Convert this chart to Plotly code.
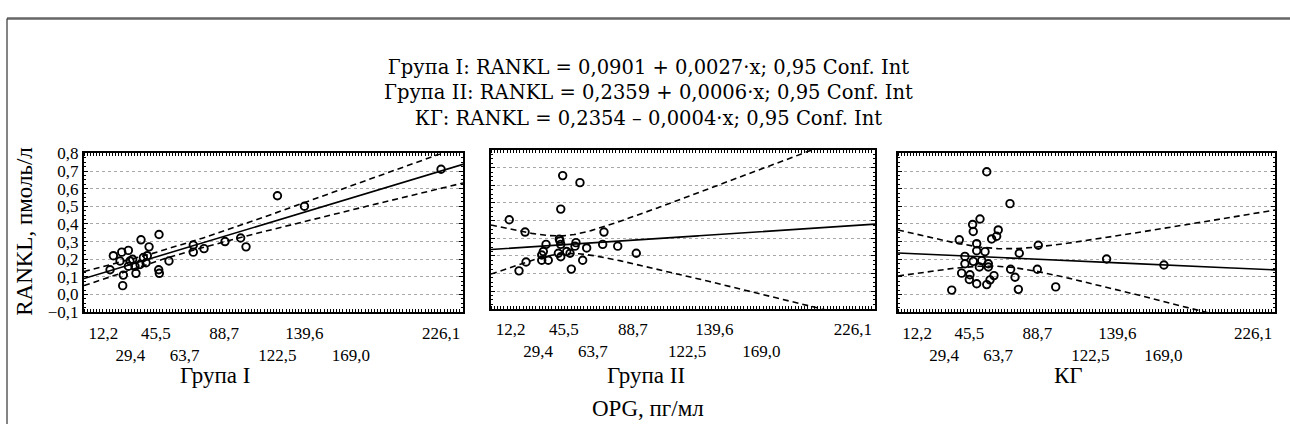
import numpy as np
import plotly.graph_objects as go

# ---------------- data ----------------
PANEL_NAMES = ["Група I", "Група II", "КГ"]
EQ_TEXT = [
    "Група I: RANKL = 0,0901 + 0,0027·x; 0,95 Conf. Int",
    "Група II: RANKL = 0,2359 + 0,0006·x; 0,95 Conf. Int",
    "КГ: RANKL = 0,2354 – 0,0004·x; 0,95 Conf. Int",
]
INTERCEPTS = [0.0901, 0.2359, 0.2354]
SLOPES = [0.0027, 0.0006, -0.0004]

G1_X = [16.5, 18.6, 22.8, 23.9, 24.5, 24.9, 28.1, 28.1, 29.1, 30.8, 32.3, 32.9, 35.5, 36.1,
        37.6, 39.3, 40.1, 41.2, 47.3, 47.5, 47.7, 53.8, 69.2, 69.2, 76.0, 89.3, 99.2, 102.6,
        122.5, 139.6, 226.1]
G1_Y = [0.14, 0.22, 0.19, 0.24, 0.05, 0.11, 0.25, 0.16, 0.19, 0.20, 0.16, 0.12, 0.17, 0.31,
        0.21, 0.18, 0.22, 0.27, 0.14, 0.34, 0.12, 0.19, 0.28, 0.24, 0.26, 0.30, 0.32, 0.27,
        0.56, 0.50, 0.71]

G2_X = [11.4, 17.5, 21.3, 21.9, 31.7, 31.7, 32.7, 34.4, 35.8, 42.1, 42.7, 43.1, 43.6, 43.6,
        43.6, 44.8, 47.3, 49.4, 50.2, 52.5, 53.1, 55.6, 57.3, 59.8, 69.8, 70.6, 79.2, 90.8]
G2_Y = [0.405, 0.115, 0.335, 0.165, 0.175, 0.205, 0.225, 0.265, 0.175, 0.215, 0.295, 0.285,
        0.265, 0.195, 0.465, 0.655, 0.225, 0.215, 0.125, 0.255, 0.275, 0.615, 0.175, 0.245,
        0.265, 0.335, 0.255, 0.215]

KG_X = [56.5, 71.3, 52.2, 47.5, 47.9, 63.8, 62.8, 59.6, 39.0, 50.1, 89.3, 77.2, 50.1, 55.4,
        42.6, 47.9, 53.3, 42.6, 51.8, 57.5, 57.5, 132.8, 169.3, 71.7, 88.7, 40.5, 45.8, 45.4,
        50.1, 56.5, 58.6, 61.1, 74.5, 76.6, 100.4, 34.2]
KG_Y = [0.696, 0.515, 0.428, 0.397, 0.357, 0.366, 0.33, 0.315, 0.31, 0.288, 0.279, 0.234,
        0.248, 0.243, 0.216, 0.188, 0.192, 0.174, 0.156, 0.174, 0.156, 0.201, 0.167, 0.143,
        0.143, 0.121, 0.112, 0.085, 0.061, 0.056, 0.083, 0.107, 0.098, 0.029, 0.043, 0.025]

X_TICK_VALS = [12.2, 29.4, 45.5, 63.7, 88.7, 122.5, 139.6, 169.0, 226.1]
X_TICK_TEXT = ["12,2", "29,4", "45,5", "63,7", "88,7", "122,5", "139,6", "169,0", "226,1"]
Y_TICK_VALS = [-0.1, 0.0, 0.1, 0.2, 0.3, 0.4, 0.5, 0.6, 0.7, 0.8]
Y_TICK_TEXT = ["−0,1", "0,0", "0,1", "0,2", "0,3", "0,4", "0,5", "0,6", "0,7", "0,8"]

Y_TITLE = "RANKL, пмоль/л"
X_TITLE = "OPG, пг/мл"

SERIES = [(G1_X, G1_Y), (G2_X, G2_Y), (KG_X, KG_Y)]

# ---------------- helpers ----------------
X_RANGE = [0, 240]
Y_RANGE = [-0.1, 0.8]
W, H = 1290, 434
FONT = "Liberation Serif"
WIDE_FONT = "DejaVu Serif"


def t_quantile(df, z=1.959964):
    return (z + (z**3 + z) / (4 * df) + (5 * z**5 + 16 * z**3 + 3 * z) / (96 * df**2)
            + (3 * z**7 + 19 * z**5 + 17 * z**3 - 15 * z) / (384 * df**3))


def conf_band(xs, ys, a, b, grid):
    xs = np.asarray(xs, float)
    ys = np.asarray(ys, float)
    n = len(xs)
    resid = ys - (a + b * xs)
    s = np.sqrt(np.sum(resid**2) / (n - 2))
    xm = xs.mean()
    sxx = np.sum((xs - xm) ** 2)
    fit = a + b * grid
    hw = t_quantile(n - 2) * s * np.sqrt(1.0 / n + (grid - xm) ** 2 / sxx)
    return fit, fit - hw, fit + hw


def px_x(p):
    return p / W


def px_y(p):
    return 1 - p / H


DOMAINS_X = [[px_x(84), px_x(463)], [px_x(491), px_x(875)], [px_x(898), px_x(1275)]]
DOMAINS_Y = [[px_y(317), px_y(151)], [px_y(313.5), px_y(147.5)], [px_y(317), px_y(151)]]

fig = go.Figure()
grid = np.linspace(X_RANGE[0], X_RANGE[1], 481)

for i, (xs, ys) in enumerate(SERIES):
    xa = "x" if i == 0 else f"x{i + 1}"
    ya = "y" if i == 0 else f"y{i + 1}"
    fit, lo, hi = conf_band(xs, ys, INTERCEPTS[i], SLOPES[i], grid)
    for band in (hi, lo):
        fig.add_trace(go.Scatter(x=grid, y=band, mode="lines", xaxis=xa, yaxis=ya,
                                 line=dict(color="black", width=1.6, dash="6px,4px"),
                                 hoverinfo="skip", showlegend=False))
    fig.add_trace(go.Scatter(x=grid, y=fit, mode="lines", xaxis=xa, yaxis=ya,
                             line=dict(color="black", width=1.6),
                             hoverinfo="skip", showlegend=False))
    fig.add_trace(go.Scatter(x=xs, y=ys, mode="markers", xaxis=xa, yaxis=ya,
                             marker=dict(symbol="circle-open", size=7.5, color="black",
                                         line=dict(width=1.9, color="black")),
                             showlegend=False))

stag_text = [("<br>" + t) if k % 2 else t for k, t in enumerate(X_TICK_TEXT)]
tickfont = dict(family=FONT, size=17, color="black")
grid_style = dict(showgrid=True, gridcolor="#a8a8a8", griddash="dot", gridwidth=1)

layout = dict(
    width=W, height=H,
    margin=dict(l=0, r=0, t=0, b=0),
    paper_bgcolor="white", plot_bgcolor="white",
    font=dict(family=FONT, color="black"),
    showlegend=False,
)

for i in range(3):
    sx = "" if i == 0 else str(i + 1)
    ya = "y" + sx
    xa = "x" + sx
    layout["xaxis" + sx] = dict(
        domain=DOMAINS_X[i], anchor=ya, range=X_RANGE,
        tickmode="array", tickvals=X_TICK_VALS, ticktext=stag_text, tickangle=0,
        tickfont=tickfont, ticks="", showgrid=False, zeroline=False,
        showline=True, linecolor="black", linewidth=2, mirror="allticks",
        ticklabelstandoff=4,
        minor=dict(tickmode="linear", tick0=0, dtick=2, ticks="inside", ticklen=3,
                   tickcolor="black", tickwidth=1, showgrid=False),
    )
    layout["yaxis" + sx] = dict(
        domain=DOMAINS_Y[i], anchor=xa, range=Y_RANGE,
        tickmode="array", tickvals=Y_TICK_VALS, ticktext=Y_TICK_TEXT,
        showticklabels=(i == 0), tickfont=tickfont,
        ticks="inside", ticklen=4, tickcolor="black", zeroline=False,
        showline=True, linecolor="black", linewidth=2, mirror="allticks",
        minor=dict(tickmode="linear", tick0=0, dtick=0.025, ticks="inside", ticklen=2,
                   tickcolor="black", showgrid=False),
        **grid_style,
    )
    layout[f"xaxis{i + 4}"] = dict(
        overlaying=xa, anchor=ya, range=X_RANGE, domain=DOMAINS_X[i],
        tickmode="linear", tick0=0, dtick=20, showticklabels=False, ticks="",
        showline=False, zeroline=False, **grid_style,
    )

annotations = [dict(text="<br>".join(EQ_TEXT), xref="paper", yref="paper", x=px_x(648),
                    y=px_y(88), showarrow=False, xanchor="center", yanchor="middle",
                    align="center", font=dict(family=WIDE_FONT, size=19.5))]
for k, name in enumerate(PANEL_NAMES):
    annotations.append(dict(text=name, xref="paper", yref="paper", x=px_x([215, 646, 1068][k]),
                            y=px_y(383), showarrow=False, xanchor="center", yanchor="middle",
                            font=dict(family=FONT, size=23)))
annotations.append(dict(text=X_TITLE, xref="paper", yref="paper", x=px_x(648), y=px_y(418),
                        showarrow=False, xanchor="center", yanchor="middle",
                        font=dict(family=FONT, size=23)))
annotations.append(dict(text=Y_TITLE, xref="paper", yref="paper", x=px_x(25), y=px_y(233),
                        showarrow=False, xanchor="center", yanchor="middle", textangle=-90,
                        font=dict(family=FONT, size=23)))
layout["annotations"] = annotations

layout["shapes"] = [
    dict(type="line", xref="paper", yref="paper", x0=px_x(7), x1=1, y0=px_y(10), y1=px_y(10),
         line=dict(color="#666666", width=2.5)),
    dict(type="line", xref="paper", yref="paper", x0=px_x(7), x1=px_x(7), y0=px_y(10), y1=0,
         line=dict(color="#333333", width=1.2)),
]

fig.update_layout(**layout)
fig.write_html("out.html")
